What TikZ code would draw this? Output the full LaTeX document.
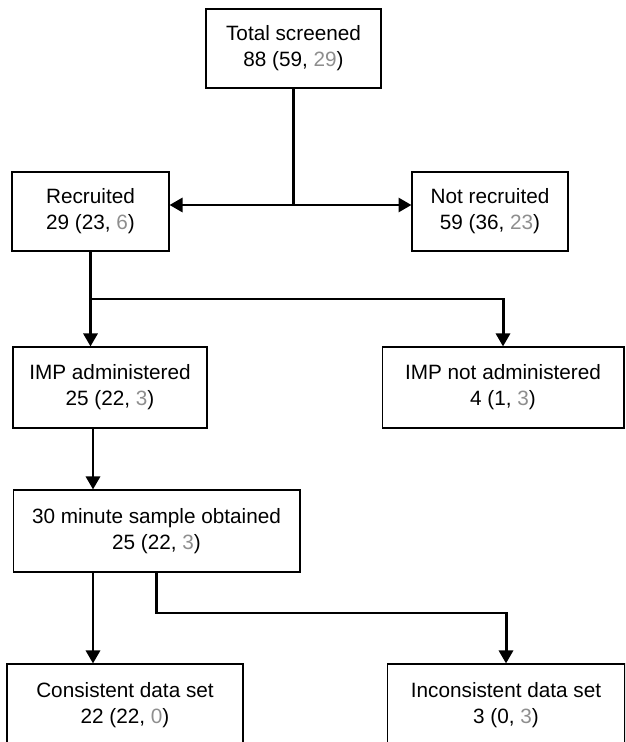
\documentclass[tikz,border=0pt]{standalone}
\usepackage{fontspec}
\setmainfont{Liberation Sans}
\usepackage{xcolor}
\usepackage{tikz}
\usetikzlibrary{arrows.meta,positioning,calc}
\definecolor{numgray}{HTML}{8E8E8E}
\newcommand{\gn}[1]{\textcolor{numgray}{#1}}

\begin{document}
\begin{tikzpicture}[x=0.02cm,y=-0.02cm,>={Triangle[length=0.26cm,width=0.28cm]},
  bx/.style={draw,line width=0.6pt,inner sep=0pt,align=center,font=\fontsize{11.8}{14.8}\selectfont},
  flow/.style={line width=1.7pt}]
  \clip (0,0) rectangle (625,742);
  \node[bx,minimum width=3.5cm,minimum height=1.58cm] (total) at (293.5,48.5) {Total screened\\88 (59, \gn{29})};
  \node[bx,minimum width=3.14cm,minimum height=1.58cm] (rec) at (90.5,211.5) {Recruited\\29 (23, \gn{6})};
  \node[bx,minimum width=3.12cm,minimum height=1.58cm] (notrec) at (490,211.5) {Not recruited\\59 (36, \gn{23})};
  \node[bx,minimum width=3.88cm,minimum height=1.62cm] (imp) at (110,387.5) {IMP administered\\25 (22, \gn{3})};
  \node[bx,minimum width=4.84cm,minimum height=1.62cm] (impnot) at (503,387.5) {IMP not administered\\4 (1, \gn{3})};
  \node[bx,minimum width=5.74cm,minimum height=1.64cm] (sample) at (156.5,531) {30 minute sample obtained\\25 (22, \gn{3})};
  \node[bx,minimum width=4.72cm,minimum height=1.64cm] (cons) at (125,705) {Consistent data set\\22 (22, \gn{0})};
  \node[bx,minimum width=4.76cm,minimum height=1.64cm] (incons) at (506,705) {Inconsistent data set\\3 (0, \gn{3})};
  % junctions
  \coordinate (j1) at (293.5,205);
  \coordinate (j2) at (90.5,299);
  \coordinate (s3) at (93,428);
  \coordinate (s4) at (93,572);
  \coordinate (j4) at (156.5,613);
  \draw[flow] (total.south) -- (j1);
  \draw[flow,->] (j1) -- (j1 -| rec.east);
  \draw[flow,->] (j1) -- (j1 -| notrec.west);
  \draw[flow] (rec.south) -- (j2);
  \draw[flow,->] (j2) -- (j2 |- imp.north);
  \draw[flow,->] (j2) -| (impnot.north);
  \draw[flow,->] (s3) -- (s3 |- sample.north);
  \draw[flow,->] (s4) -- (s4 |- cons.north);
  \draw[flow,->] (sample.south) -- (j4) -| (incons.north);
\end{tikzpicture}
\end{document}
